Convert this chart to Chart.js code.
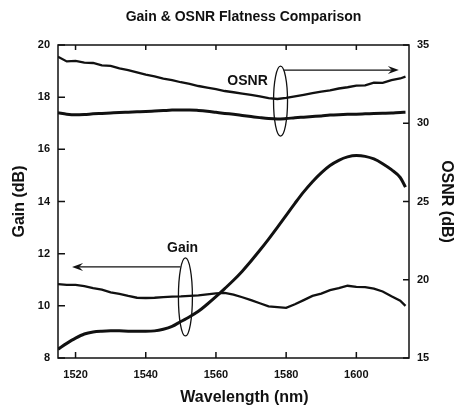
<!DOCTYPE html>
<html>
<head>
<meta charset="utf-8">
<script src="https://cdn.jsdelivr.net/npm/chart.js@4"></script>
<style>
  html, body { margin: 0; padding: 0; background: #fff; }
</style>
</head>
<body>
<canvas id="chart" width="459" height="414"></canvas>
<script>
// wavelength grid (nm)
const wavelength = [1515, 1517.5, 1520, 1522.5, 1525, 1527.5, 1530, 1532.5, 1535, 1537.5,
  1540, 1542.5, 1545, 1547.5, 1550, 1552.5, 1555, 1557.5, 1560, 1562.5,
  1565, 1567.5, 1570, 1572.5, 1575, 1577.5, 1580, 1582.5, 1585, 1587.5,
  1590, 1592.5, 1595, 1597.5, 1600, 1602.5, 1605, 1607.5, 1610, 1612.5, 1614]

// OSNR (dB), right axis
const osnrNoisy = [34.25, 33.95, 33.98, 33.88, 33.85, 33.70, 33.66, 33.50, 33.40, 33.25,
  33.10, 33.00, 32.85, 32.75, 32.62, 32.52, 32.38, 32.28, 32.18, 32.06,
  31.98, 31.90, 31.82, 31.72, 31.60, 31.55, 31.62, 31.72, 31.82, 31.92,
  32.02, 32.10, 32.22, 32.30, 32.40, 32.42, 32.60, 32.58, 32.76, 32.86, 32.98]
const osnrSmooth = [30.67, 30.58, 30.54, 30.56, 30.60, 30.63, 30.66, 30.69, 30.71, 30.73,
  30.75, 30.78, 30.81, 30.84, 30.85, 30.85, 30.82, 30.77, 30.70, 30.63,
  30.57, 30.50, 30.43, 30.36, 30.30, 30.27, 30.30, 30.35, 30.39, 30.43,
  30.47, 30.52, 30.55, 30.57, 30.58, 30.60, 30.62, 30.64, 30.66, 30.69, 30.70]

// Gain (dB), left axis
const gainNoisy = [10.83, 10.80, 10.80, 10.76, 10.68, 10.62, 10.52, 10.46, 10.38, 10.31,
  10.30, 10.31, 10.33, 10.35, 10.36, 10.38, 10.40, 10.44, 10.48, 10.50,
  10.43, 10.33, 10.22, 10.10, 9.98, 9.95, 9.92, 10.06, 10.22, 10.38,
  10.47, 10.60, 10.68, 10.77, 10.73, 10.72, 10.66, 10.55, 10.37, 10.20, 10.00]
const gainSmooth = [8.34, 8.56, 8.76, 8.92, 9.00, 9.03, 9.04, 9.04, 9.03, 9.03,
  9.03, 9.04, 9.10, 9.21, 9.40, 9.58, 9.79, 10.06, 10.35, 10.66,
  10.98, 11.33, 11.72, 12.13, 12.56, 13.01, 13.47, 13.93, 14.37, 14.76,
  15.10, 15.38, 15.58, 15.71, 15.76, 15.73, 15.63, 15.45, 15.22, 14.92, 14.55]

const wavelengthTicks = [1520, 1540, 1560, 1580, 1600]
const gainTicks = [8, 10, 12, 14, 16, 18, 20]
const osnrTicks = [15, 20, 25, 30, 35]

const ink = '#111'
const tickFont = { family: 'Liberation Sans', size: 11, weight: 'bold' }
const titleFont = { family: 'Liberation Sans', size: 16, weight: 'bold' }

function series(values) {
    return wavelength.map((w, i) => ({ x: w, y: values[i] }))
}

// box frame + inward tick marks
const frame = {
    id: 'frame',
    afterDatasetsDraw(chart) {
        const { ctx, chartArea: a, scales } = chart
        ctx.save()
        ctx.strokeStyle = ink
        ctx.lineWidth = 1.5
        ctx.strokeRect(a.left, a.top, a.right - a.left, a.bottom - a.top)
        ctx.beginPath()
        wavelengthTicks.forEach(t => {
            const x = scales.x.getPixelForValue(t)
            ctx.moveTo(x, a.bottom); ctx.lineTo(x, a.bottom - 6)
            ctx.moveTo(x, a.top); ctx.lineTo(x, a.top + 5)
        })
        gainTicks.forEach(t => {
            const y = scales.gain.getPixelForValue(t)
            ctx.moveTo(a.left, y); ctx.lineTo(a.left + 7, y)
        })
        osnrTicks.forEach(t => {
            const y = scales.osnr.getPixelForValue(t)
            ctx.moveTo(a.right, y); ctx.lineTo(a.right - 6, y)
        })
        ctx.stroke()
        ctx.restore()
    }
}

function arrow(ctx, x1, y, x2) {
    const d = x2 > x1 ? 1 : -1
    ctx.beginPath()
    ctx.moveTo(x1, y); ctx.lineTo(x2 - d * 4, y)
    ctx.stroke()
    ctx.beginPath()
    ctx.moveTo(x2, y)
    ctx.lineTo(x2 - d * 11, y - 4)
    ctx.lineTo(x2 - d * 7, y)
    ctx.lineTo(x2 - d * 11, y + 4)
    ctx.closePath()
    ctx.fill()
}

// ellipses, arrows, labels and titles
const notes = {
    id: 'notes',
    afterDraw(chart) {
        const { ctx, chartArea: a, scales } = chart
        const x = v => scales.x.getPixelForValue(v)
        const g = v => scales.gain.getPixelForValue(v)
        ctx.save()
        ctx.strokeStyle = ink
        ctx.fillStyle = ink
        ctx.lineWidth = 1.3

        // OSNR group
        ctx.beginPath()
        ctx.ellipse(x(1578.4), g(17.85), 7, 35, 0, 0, Math.PI * 2)
        ctx.stroke()
        arrow(ctx, x(1579.3), g(19.04), x(1612.1))
        // Gain group
        ctx.beginPath()
        ctx.ellipse(x(1551.3), g(10.34), 7, 39, 0, 0, Math.PI * 2)
        ctx.stroke()
        arrow(ctx, x(1549.9), g(11.49), x(1519))

        ctx.font = 'bold 14px "Liberation Sans"'
        ctx.textAlign = 'center'
        ctx.textBaseline = 'middle'
        ctx.fillText('OSNR', x(1569), g(18.6))
        ctx.fillText('Gain', x(1550.5), g(12.2))

        const cx = (a.left + a.right) / 2 + 10
        ctx.fillText('Gain & OSNR Flatness Comparison', cx, 17)
        ctx.font = 'bold 16px "Liberation Sans"'
        ctx.fillText('Wavelength (nm)', cx + 1, 398)
        ctx.restore()
    }
}

new Chart(document.getElementById('chart'), {
    type: 'line',
    data: {
        datasets: [
            { label: 'OSNR noisy', data: series(osnrNoisy), yAxisID: 'osnr', borderWidth: 2.3, tension: 0 },
            { label: 'OSNR smooth', data: series(osnrSmooth), yAxisID: 'osnr', borderWidth: 3, cubicInterpolationMode: 'monotone' },
            { label: 'Gain noisy', data: series(gainNoisy), yAxisID: 'gain', borderWidth: 2.3, tension: 0 },
            { label: 'Gain smooth', data: series(gainSmooth), yAxisID: 'gain', borderWidth: 3, cubicInterpolationMode: 'monotone' }
        ].map(d => ({ ...d, borderColor: ink, pointRadius: 0, fill: false }))
    },
    plugins: [frame, notes],
    options: {
        responsive: false,
        animation: false,
        layout: { padding: { top: 45 } },
        plugins: {
            legend: { display: false },
            tooltip: { enabled: false }
        },
        scales: {
            x: {
                type: 'linear',
                min: 1515,
                max: 1615,
                afterBuildTicks: s => { s.ticks = wavelengthTicks.map(v => ({ value: v })) },
                afterFit: s => { s.height = 56 },
                grid: { display: false, drawTicks: false },
                border: { display: false },
                ticks: { color: ink, font: tickFont, padding: 10, callback: v => String(v) }
            },
            gain: {
                position: 'left',
                min: 8,
                max: 20,
                afterBuildTicks: s => { s.ticks = gainTicks.map(v => ({ value: v })) },
                afterFit: s => { s.width = 58 },
                grid: { display: false, drawTicks: false },
                border: { display: false },
                ticks: { color: ink, font: tickFont, padding: 8 },
                title: { display: true, text: 'Gain (dB)', color: ink, padding: { top: 10 }, font: titleFont }
            },
            osnr: {
                position: 'right',
                min: 15,
                max: 35,
                afterBuildTicks: s => { s.ticks = osnrTicks.map(v => ({ value: v })) },
                afterFit: s => { s.width = 50 },
                grid: { display: false, drawTicks: false },
                border: { display: false },
                ticks: { color: ink, font: tickFont, padding: 8 },
                title: { display: true, text: 'OSNR (dB)', color: ink, padding: { top: 3 }, font: titleFont }
            }
        }
    }
})
</script>
</body>
</html>
